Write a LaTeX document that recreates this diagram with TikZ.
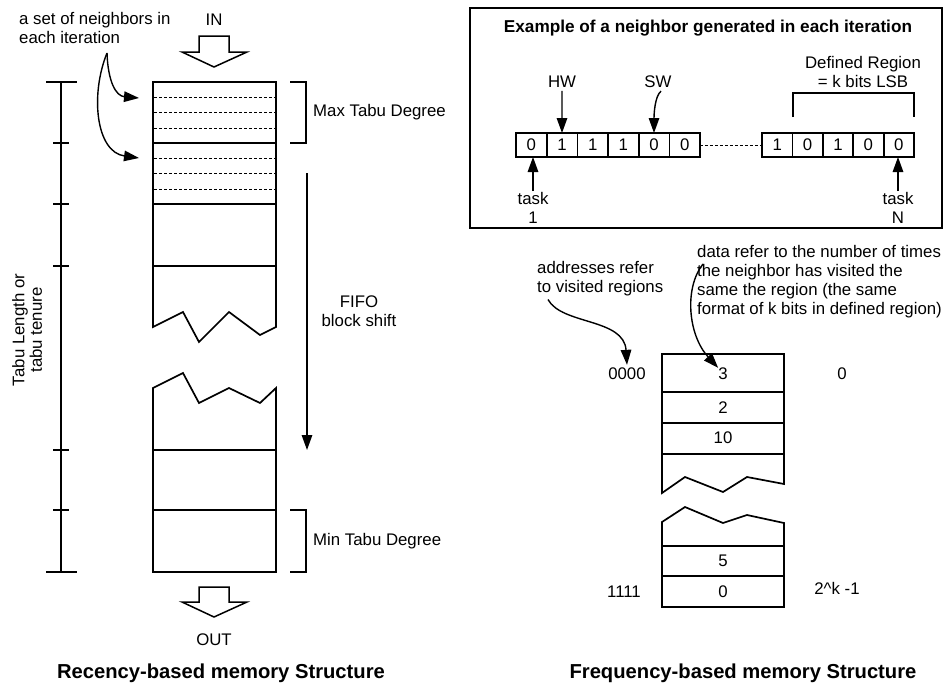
\documentclass[tikz,border=0pt]{standalone}
\usepackage{fontspec}
\setmainfont{Liberation Sans}
\usetikzlibrary{arrows.meta}
\begin{document}
\begin{tikzpicture}[x=1pt,y=-1pt,
  txt/.style={font=\fontsize{16.8}{19}\selectfont, inner sep=0pt},
  ttl/.style={font=\bfseries\fontsize{17.2}{20}\selectfont, inner sep=0pt},
  captxt/.style={font=\bfseries\fontsize{20.2}{22}\selectfont, inner sep=0pt},
  outl/.style={line width=1.7pt, line join=miter},
  sepline/.style={line width=2.8pt},
  dashsep/.style={line width=1pt, dash pattern=on 3pt off 2pt},
  arr/.style={line width=1.4pt, -{Triangle[length=15pt,width=10.5pt]}},
  bigarrow/.style={line width=1.5pt, fill=white},
  cell/.style={draw, line width=1.6pt, minimum width=30.6pt, minimum height=24pt,
               inner sep=0pt, outer sep=0pt, font=\fontsize{16.8}{19}\selectfont},
  fcell/.style={inner sep=0pt, font=\fontsize{16.8}{19}\selectfont}
]
\useasboundingbox (0,0) rectangle (946,686);

% ---------------- Recency-based memory ----------------
\node[txt, align=left, anchor=west] (lbl) at (19,28) {a set of neighbors in\\each iteration};
\coordinate (ls) at (107,53);
\coordinate (r1) at (139,98);
\coordinate (r2) at (139,158);
\draw[arr] (ls) .. controls (108,82) and (116,96) .. (r1);
\draw[arr] (ls) .. controls (90,95) and (96,152) .. (r2);

\node[txt] (in) at (214,20) {IN};
\draw[bigarrow] (199,36) -- (229,36) -- (229,52) -- (247,52) -- (214,67) -- (182,52) -- (199,52) -- cycle;

% upper part
\draw[outl] (153,327) -- (153,82) -- (276,82) -- (276,327) -- (260,335) -- (229,312) -- (199,342) -- (183,312) -- cycle;
% lower part
\draw[outl] (153,388) -- (183,373) -- (199,403) -- (229,388) -- (260,403) -- (276,388) -- (276,572) -- (153,572) -- cycle;

\foreach \yy in {143,204,266,450,510} \draw[sepline] (153,\yy) -- (276,\yy);
\foreach \yy in {97,112,128,158,173,189} \draw[dashsep] (154,\yy) -- (275,\yy);

% brackets
\draw[outl] (290,82) -- (306,82) -- (306,143) -- (290,143);
\draw[outl] (290,510) -- (306,510) -- (306,572) -- (290,572);
\node[txt, anchor=west] (maxt) at (313,112) {Max Tabu Degree};
\node[txt, anchor=west] (mint) at (313,541) {Min Tabu Degree};

% FIFO
\coordinate (f1) at (307,173);
\coordinate (f2) at (307,450);
\draw[arr] (f1) -- (f2);
\node[txt, align=center] (fifo) at (359,311) {FIFO\\block shift};

% scale bar
\draw[line width=2pt] (61,82) -- (61,572);
\draw[line width=2pt] (46,82) -- (77,82);
\draw[line width=2pt] (46,572) -- (77,572);
\foreach \yy in {143,204,266,450,510} \draw[line width=1.6pt] (53,\yy) -- (69,\yy);
\node[txt, rotate=90, align=center, font=\fontsize{16.8}{17.5}\selectfont] (tl) at (27,330) {Tabu Length or\\tabu tenure};

% OUT
\draw[bigarrow] (199,587) -- (229,587) -- (229,602) -- (247,602) -- (214,617) -- (182,602) -- (199,602) -- cycle;
\node[txt] (out) at (214,640) {OUT};

\node[captxt] (c1) at (221,673) {Recency-based memory Structure};

% ---------------- Example box ----------------
\draw[line width=1.6pt] (470,8) rectangle (942,228);
\node[ttl] (title) at (708,28) {Example of a neighbor generated in each iteration};

\foreach \b [count=\i] in {0,1,1,1,0,0}
  \node[cell] (a\i) at ({516+30.67*(\i-0.5)},145) {\b};
\foreach \b [count=\i] in {1,0,1,0,0}
  \node[cell] (b\i) at ({762+30.4*(\i-0.5)},145) {\b};
\draw[line width=1pt, dash pattern=on 3pt off 2pt] (a6.east) -- (b1.west);

\node[txt] (hw) at (562,82) {HW};
\draw[arr] ([yshift=-3pt]hw.south) -- (a2.north);
\node[txt] (sw) at (658,82) {SW};
\draw[arr] ([xshift=3pt,yshift=-3pt]sw.south) .. controls +(-6,5) and +(0,-20) .. (a5.north);

\node[txt, align=center] (t1) at (533,208) {task\\1};
\draw[arr] ([yshift=1pt]t1.north) -- (t1.north |- a1.south);
\node[txt, align=center] (tn) at (898,208) {task\\N};
\draw[arr] ([yshift=1pt]tn.north) -- (tn.north |- b5.south);

\draw[line width=1.6pt] (793,117) -- (793,93) -- (914,93) -- (914,117);
\node[txt, align=center] (dr) at (863,71.5) {Defined Region\\= k bits LSB};

% ---------------- Frequency-based memory ----------------
\node[txt, align=left, anchor=west] (addr) at (537,279) {addresses refer\\to visited regions};
\node[txt, align=left, anchor=west] (data) at (697,281.5) {data refer to the number of times\\the neighbor has visited the\\same the region (the same\\format of k bits in defined region)};

\draw[outl] (662,493) -- (662,354) -- (784,354) -- (784,484) -- (747,477) -- (723,492) -- (685,477) -- cycle;
\draw[outl] (662,522) -- (685,507) -- (723,523) -- (747,515) -- (784,523) -- (784,607) -- (662,607) -- cycle;
\foreach \yy in {392,423,454,546,576} \draw[outl] (662,\yy) -- (784,\yy);

\node[fcell] (v1) at (723,374) {3};
\node[fcell] (v2) at (723,408) {2};
\node[fcell] (v3) at (723,438) {10};
\node[fcell] (v4) at (723,561) {5};
\node[fcell] (v5) at (723,592) {0};

\node[fcell] (ad1) at (627,374) {0000};
\node[fcell] (ad2) at (624,592) {1111};
\node[fcell] (ix1) at (842,374) {0};
\node[fcell] (ix2) at (837,588) {2\textasciicircum k -1};

\draw[arr] ([xshift=11pt,yshift=-3pt]addr.south west) .. controls (562,325) and (624,318) .. ([yshift=3pt]ad1.north);
\draw[arr] ([xshift=6pt,yshift=-19pt]data.north west) .. controls (684,288) and (688,335) .. (v1.north west);

\node[captxt] (c2) at (743,673) {Frequency-based memory Structure};
\end{tikzpicture}
\end{document}
